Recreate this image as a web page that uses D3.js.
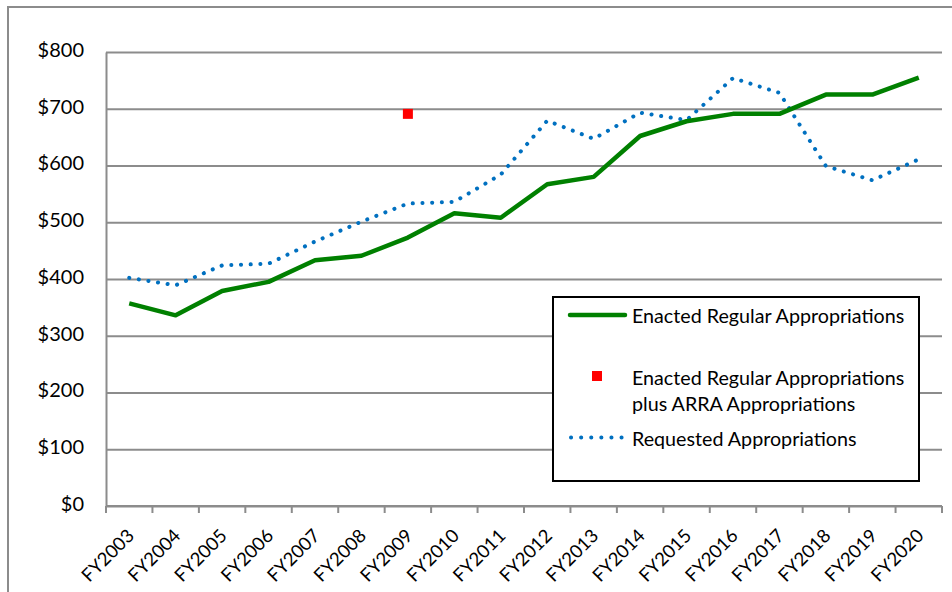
<!DOCTYPE html>
<html><head><meta charset="utf-8">
<script src="https://cdn.jsdelivr.net/npm/d3@7"></script>
<style>
html,body{margin:0;padding:0;background:#fff;}
svg{display:block;}
text{font-family:Lato,"Open Sans",sans-serif;fill:#000;}
</style></head>
<body>
<svg id="chart" width="952" height="592"></svg>
<script>
const categories = ["FY2003","FY2004","FY2005","FY2006","FY2007","FY2008","FY2009","FY2010","FY2011","FY2012","FY2013","FY2014","FY2015","FY2016","FY2017","FY2018","FY2019","FY2020"];
const enacted   = [357,336,379,395,433,441,473,516,508,567,580,652,678,691,691,725,725,755];
const requested = [402,389,424,427,466,501,533,536,584,679,647,693,680,754,728,599,574,611];
const arraCategory = ["FY2009"];
const arraValue = [691];
const yTicks = [0,100,200,300,400,500,600,700,800];
const legendLabels = ["Enacted Regular Appropriations","Enacted Regular Appropriations|plus ARRA Appropriations","Requested Appropriations"];

const svg = d3.select("#chart");
const L=106,R=942,T=52,B=506;
const x = d3.scaleBand().domain(categories).range([L,R]).padding(0);
const y = d3.scaleLinear().domain([0,800]).range([B,T]);
const cx = c => x(c)+x.bandwidth()/2;

// outer frame
svg.append("rect").attr("x",8).attr("y",7).attr("width",980).attr("height",620)
  .attr("fill","none").attr("stroke","#8c8c8c").attr("stroke-width",2);

// gridlines
const grid = svg.append("g").attr("transform",`translate(${L},0)`)
  .call(d3.axisLeft(y).tickValues(yTicks).tickSize(-(R-L)).tickFormat(""));
grid.select(".domain").remove();
grid.selectAll("line").attr("stroke","#8c8c8c").attr("stroke-width",2);

// y axis labels
const ya = svg.append("g").attr("transform",`translate(${L},0)`)
  .call(d3.axisLeft(y).tickValues(yTicks).tickSize(0).tickPadding(22).tickFormat(d=>"$"+d));
ya.select(".domain").attr("stroke","#8c8c8c").attr("stroke-width",2);
ya.selectAll("text").attr("font-size",20).attr("font-family","Lato").attr("fill","#000").attr("dy","0.22em");

// x axis
svg.append("line").attr("x1",L).attr("x2",R).attr("y1",B).attr("y2",B).attr("stroke","#8c8c8c").attr("stroke-width",2);
const bounds = categories.map(c=>x(c)).concat([R]);
svg.append("g").selectAll("line").data(bounds).join("line")
  .attr("x1",d=>d).attr("x2",d=>d).attr("y1",B).attr("y2",B+7)
  .attr("stroke","#8c8c8c").attr("stroke-width",2);
svg.append("g").selectAll("text").data(categories).join("text")
  .attr("transform",d=>`translate(${cx(d)+6},${B+31}) rotate(-45)`)
  .attr("text-anchor","end").attr("font-size",18.5).text(d=>d);

// lines
const lineGen = d3.line().x((d,i)=>cx(categories[i])).y(d=>y(d));
svg.append("path").datum(requested).attr("d",lineGen).attr("fill","none")
  .attr("stroke","#0070C0").attr("stroke-width",4).attr("stroke-linecap","round")
  .attr("stroke-dasharray","0.1 9.6");
svg.append("path").datum(enacted).attr("d",lineGen).attr("fill","none")
  .attr("stroke","#008000").attr("stroke-width",4.5).attr("stroke-linejoin","round");
svg.append("g").selectAll("rect").data(arraValue).join("rect")
  .attr("x",(d,i)=>cx(arraCategory[i])-5).attr("y",d=>y(d)-5)
  .attr("width",10).attr("height",10).attr("fill","#FF0000");

// legend
const lg = svg.append("g");
lg.append("rect").attr("x",553).attr("y",297).attr("width",366).attr("height",184)
  .attr("fill","#fff").attr("stroke","#000").attr("stroke-width",2);
lg.append("line").attr("x1",570).attr("x2",625).attr("y1",315).attr("y2",315)
  .attr("stroke","#008000").attr("stroke-width",4.5).attr("stroke-linecap","round");
lg.append("rect").attr("x",592).attr("y",371).attr("width",10).attr("height",10).attr("fill","#FF0000");
lg.append("line").attr("x1",571).attr("x2",622).attr("y1",437.5).attr("y2",437.5)
  .attr("stroke","#0070C0").attr("stroke-width",4).attr("stroke-linecap","round")
  .attr("stroke-dasharray","0.1 10");
const legY = [315,377,437.5];
legendLabels.forEach((lab,i)=>{
  const parts = lab.split("|");
  const t = lg.append("text").attr("x",632).attr("y",legY[i]).attr("font-size",19.7).attr("dominant-baseline","central");
  parts.forEach((p,j)=>t.append("tspan").attr("x",632).attr("dy",j?25.5:0).text(p));
});
</script>
</body></html>
